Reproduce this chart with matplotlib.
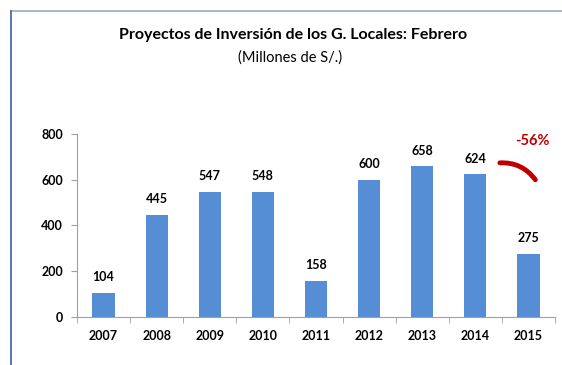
import matplotlib.pyplot as plt
from matplotlib.patches import FancyArrowPatch
from matplotlib.lines import Line2D

# Inversion of local governments, February of each year
years = ['2007', '2008', '2009', '2010', '2011', '2012', '2013', '2014', '2015']
values = [104, 445, 547, 548, 158, 600, 658, 624, 275]
change_label = '-56%'

plt.rcParams['font.family'] = ['Lato', 'DejaVu Sans']

fig = plt.figure(figsize=(5.62, 3.65), dpi=100)
ax = fig.add_axes([0.137, 0.1315, 0.8505, 0.5014])

x = range(len(years))
bars = ax.bar(x, values, width=0.42, color='#558ED5', zorder=2)

for xi, v in zip(x, values):
    ax.annotate(str(v), (xi, v), xytext=(0, 7), textcoords='offset points',
                ha='center', va='bottom', fontsize=9, fontweight='bold')

ax.set_xlim(-0.5, len(years) - 0.5)
ax.set_ylim(0, 800)
ax.set_yticks([0, 200, 400, 600, 800])
ax.set_yticklabels(['0', '200', '400', '600', '800'], fontsize=9, fontweight='bold')

# categories labelled at centre, tick marks on the boundaries
ax.set_xticks(list(x))
ax.set_xticklabels(years, fontsize=9, fontweight='bold')
ax.tick_params(axis='x', length=0, pad=9)
ax.set_xticks([i - 0.5 for i in range(len(years) + 1)], minor=True)
ax.tick_params(axis='x', which='minor', length=4, color='#A0A0A0', direction='out')
ax.tick_params(axis='y', length=4, color='#A0A0A0', pad=6)

for side in ['top', 'right']:
    ax.spines[side].set_visible(False)
for side in ['left', 'bottom']:
    ax.spines[side].set_color('#A0A0A0')

# drop from 2014 to 2015
arc = FancyArrowPatch((7.41, 673), (8.16, 590), connectionstyle='arc3,rad=-0.3',
                      arrowstyle='-', color='#C00000', lw=3.5, capstyle='round',
                      zorder=3)
ax.add_patch(arc)
ax.text(8.07, 770, change_label, color='#C00000', fontsize=10.5,
        fontweight='bold', ha='center', va='center')

fig.text(0.522, 0.905, 'Proyectos de Inversión de los G. Locales: Febrero',
         ha='center', va='center', fontsize=11.5, fontweight='bold')
fig.text(0.516, 0.842, '(Millones de S/.)', ha='center', va='center', fontsize=10.5)

# chart frame
fy = 1 - 11 / 365
fx = 11 / 562
fig.add_artist(Line2D([fx, 1], [fy, fy], color='#9AAAC4', lw=1.2))
fig.add_artist(Line2D([fx, fx], [0, fy], color='#3D5E9E', lw=1.2))

fig.savefig('out.png', dpi=100)
